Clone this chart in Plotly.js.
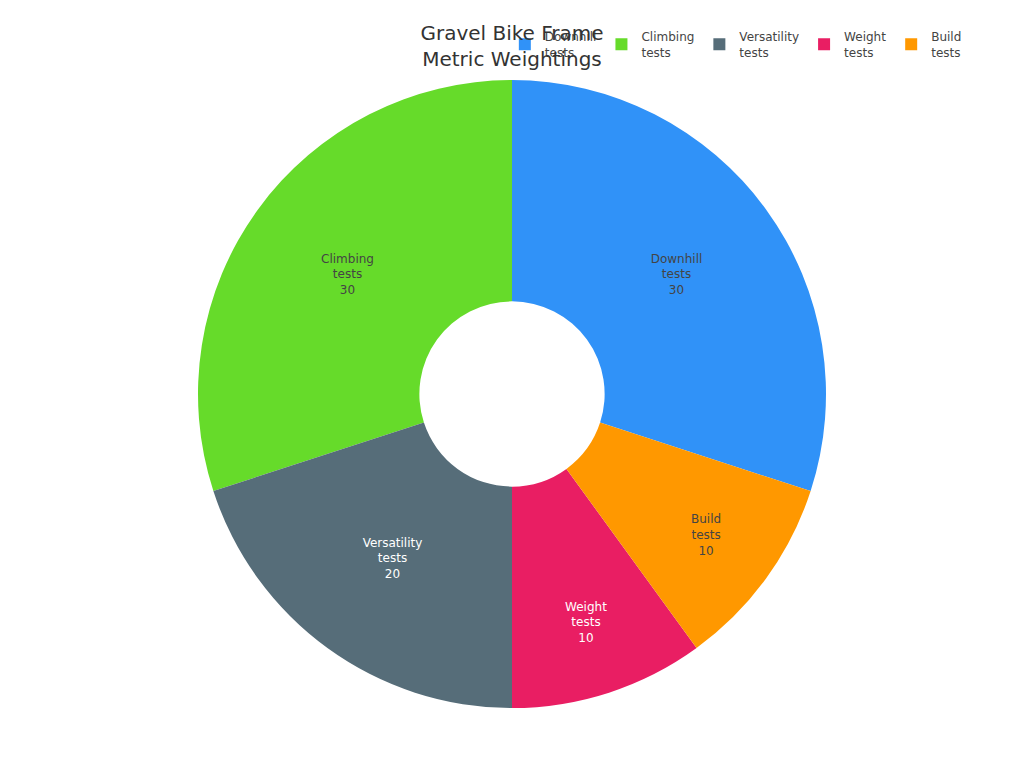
<!DOCTYPE html>
<html>
<head>
<meta charset="utf-8">
<script src="https://cdn.plot.ly/plotly-3.0.1.min.js"></script>
<style>html,body{margin:0;padding:0;background:#fff;}#chart{width:1024px;height:768px;}</style>
</head>
<body>
<div id="chart"></div>
<script>
const categories = ["Downhill<br>tests", "Climbing<br>tests", "Versatility<br>tests", "Weight<br>tests", "Build<br>tests"];
const weightings = [30, 30, 20, 10, 10];
const sliceColors = ["#3092F8", "#66DB2A", "#566D79", "#E91E63", "#FF9800"];

const trace = {
  type: "pie",
  labels: categories,
  values: weightings,
  hole: 0.295,
  sort: false,
  direction: "counterclockwise",
  textinfo: "label+value",
  textposition: "inside",
  insidetextorientation: "horizontal",
  marker: { colors: sliceColors, line: { width: 0 } },
  textfont: { size: 12 }
};

const layout = {
  width: 1024,
  height: 768,
  font: { family: "DejaVu Sans, sans-serif", size: 12, color: "#444" },
  title: { text: "Gravel Bike Frame<br>Metric Weightings", x: 0.5, xanchor: "center", y: 0.948, font: { size: 20, color: "#333" } },
  legend: { orientation: "h", x: 0.493, xref: "container", xanchor: "left", y: 0.971, yref: "container", yanchor: "top", font: { size: 12 } },
  margin: { t: 80, b: 60, l: 80, r: 80 },
  paper_bgcolor: "#fff",
  showlegend: true
};

Plotly.newPlot("chart", [trace], layout, { displayModeBar: false });
</script>
</body>
</html>
